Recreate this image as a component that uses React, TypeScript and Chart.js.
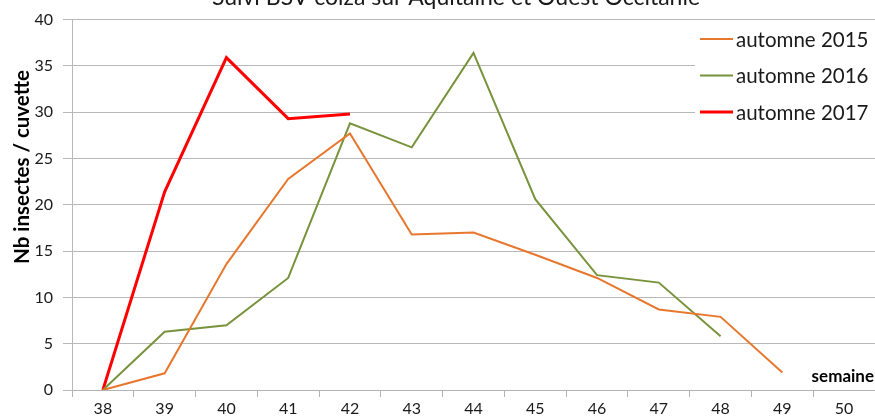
import React, { useEffect, useRef } from "react";
import { Chart, registerables } from "chart.js";

Chart.register(...registerables);

const weeks = ["38", "39", "40", "41", "42", "43", "44", "45", "46", "47", "48", "49", "50"];
const automne2015 = [0, 1.8, 13.6, 22.8, 27.7, 16.8, 17.0, 14.6, 12.1, 8.7, 7.9, 1.9, null];
const automne2016 = [0, 6.3, 7.0, 12.1, 28.8, 26.2, 36.4, 20.6, 12.4, 11.6, 5.8, null, null];
const automne2017 = [0, 21.4, 35.9, 29.3, 29.8, null, null, null, null, null, null, null, null];
const seriesNames = ["automne 2015", "automne 2016", "automne 2017"];
const seriesColors = ["#E8772E", "#77933C", "#FF0000"];
const titleText = "Suivi BSV colza sur Aquitaine et Ouest Occitanie";
const yTitleText = "Nb insectes / cuvette";
const xTitleText = "semaine";

const FONT = "Lato, 'Open Sans', sans-serif";

const overlayPlugin = {
  id: "overlay",
  afterDatasetsDraw(chart: any) {
    const ctx = chart.ctx;
    ctx.save();
    // title (partly cut at top)
    ctx.fillStyle = "#1a1a1a";
    ctx.font = `23px ${FONT}`;
    ctx.textAlign = "center";
    ctx.textBaseline = "alphabetic";
    ctx.fillText(titleText, 456, 5);

    // y axis title
    ctx.save();
    ctx.translate(22, 167);
    ctx.rotate(-Math.PI / 2);
    ctx.font = `bold 20.5px ${FONT}`;
    ctx.textAlign = "center";
    ctx.textBaseline = "middle";
    ctx.fillStyle = "#000";
    ctx.fillText(yTitleText, 0, 0);
    ctx.restore();

    // x axis title
    ctx.font = `bold 17px ${FONT}`;
    ctx.textAlign = "right";
    ctx.textBaseline = "middle";
    ctx.fillStyle = "#000";
    ctx.fillText(xTitleText, 874, 377);

    // legend
    ctx.fillStyle = "#fff";
    ctx.fillRect(695, 22, 180, 110);
    const ys = [39, 75.5, 112];
    ctx.font = `20.5px ${FONT}`;
    ctx.textAlign = "left";
    ctx.textBaseline = "middle";
    seriesNames.forEach((n, i) => {
      ctx.strokeStyle = seriesColors[i];
      ctx.lineWidth = i === 2 ? 3 : 2;
      ctx.beginPath();
      ctx.moveTo(700, ys[i]);
      ctx.lineTo(733, ys[i]);
      ctx.stroke();
      ctx.fillStyle = "#1a1a1a";
      ctx.fillText(n, 736, ys[i] + 1);
    });
    ctx.restore();
  },
};

export default function App() {
  const ref = useRef<HTMLCanvasElement>(null);
  useEffect(() => {
    document.body.style.margin = "0";
    const canvas = ref.current!;
    const chart = new Chart(canvas, {
      type: "line",
      data: {
        labels: weeks,
        datasets: [
          { label: seriesNames[0], data: automne2015, borderColor: seriesColors[0], borderWidth: 2, pointRadius: 0, tension: 0, fill: false },
          { label: seriesNames[1], data: automne2016, borderColor: seriesColors[1], borderWidth: 2, pointRadius: 0, tension: 0, fill: false },
          { label: seriesNames[2], data: automne2017, borderColor: seriesColors[2], borderWidth: 3, pointRadius: 0, tension: 0, fill: false },
        ],
      },
      options: {
        animation: false,
        responsive: false,
        layout: { padding: { top: 19, right: 0, left: 0, bottom: 0 } },
        plugins: { legend: { display: false }, title: { display: false }, tooltip: { enabled: false } },
        scales: {
          x: {
            offset: true,
            grid: { offset: true, drawOnChartArea: false, drawTicks: true, tickLength: 7, color: "#b3b3b3" },
            border: { color: "#b3b3b3" },
            ticks: { color: "#1a1a1a", font: { family: FONT, size: 16 }, padding: 2, maxRotation: 0, autoSkip: false },
            afterFit: (s: any) => { s.height = 29; },
          },
          y: {
            min: 0,
            max: 40,
            ticks: { stepSize: 5, color: "#1a1a1a", font: { family: FONT, size: 16 }, padding: 10 },
            grid: { color: "#b8b8b8", tickLength: 9, drawTicks: true },
            border: { color: "#b8b8b8" },
            afterFit: (s: any) => { s.width = 72; },
          },
        },
      },
      plugins: [overlayPlugin],
    } as any);
    return () => chart.destroy();
  }, []);
  return (
    <div style={{ width: 875, height: 419 }}>
      <canvas ref={ref} width={875} height={419} style={{ display: "block" }} />
    </div>
  );
}
